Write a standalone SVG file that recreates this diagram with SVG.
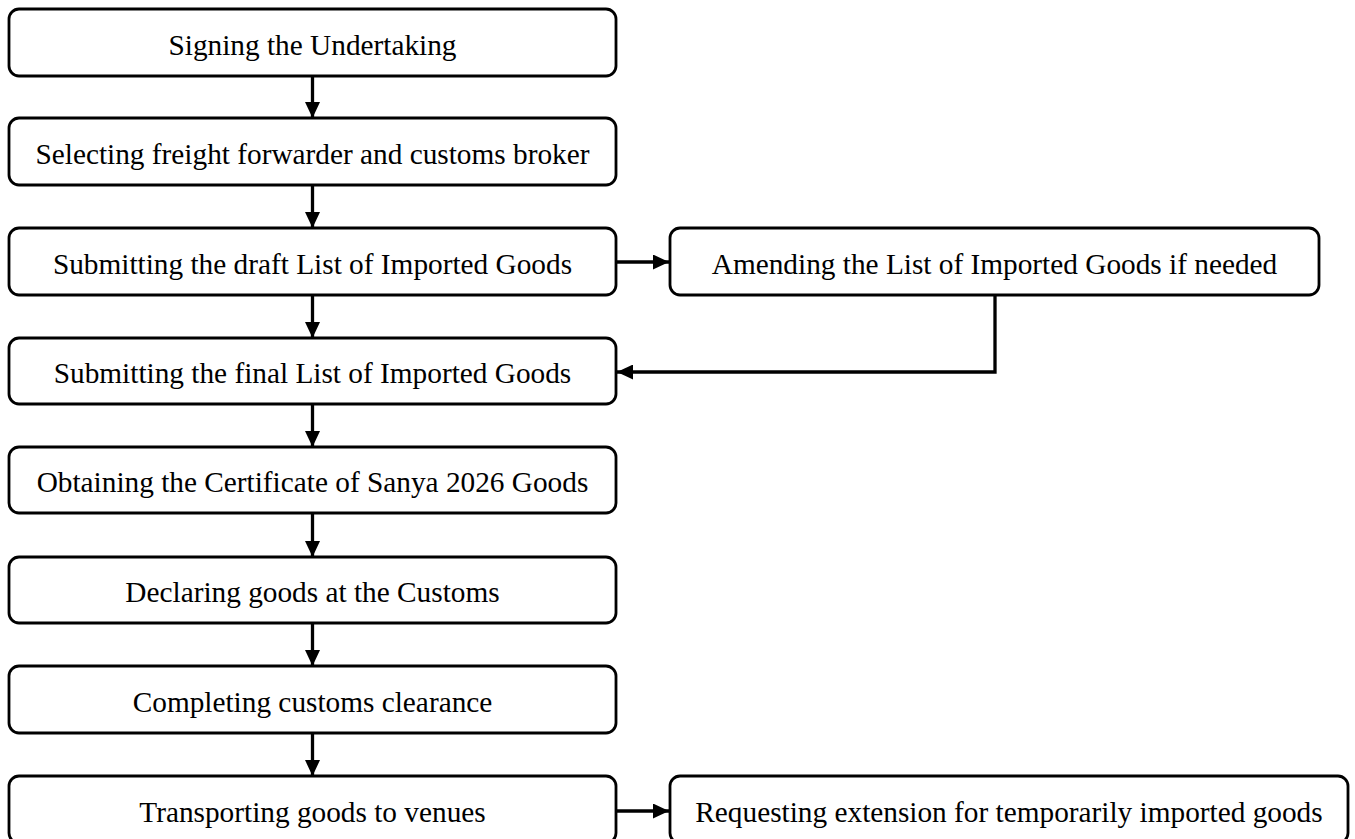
<svg xmlns="http://www.w3.org/2000/svg" width="1355" height="839" viewBox="0 0 1355 839">
<defs>
<style>
.box{fill:#fff;stroke:#000;stroke-width:2.8}
.lbl{font-family:"Liberation Serif","Times New Roman",serif;font-size:29.3px;fill:#000;text-anchor:middle}
.con{fill:none;stroke:#000;stroke-width:3.3}
</style>
<marker id="ah" viewBox="0 0 16 15" markerWidth="16" markerHeight="15" refX="16" refY="7.5" orient="auto" markerUnits="userSpaceOnUse">
<path d="M0,0 L16,7.5 L0,15 z" fill="#000"/>
</marker>
</defs>
<rect width="1355" height="839" fill="#fff"/>
<g id="connectors">
<line class="con" x1="312.5" y1="76" x2="312.5" y2="118" marker-end="url(#ah)"/>
<line class="con" x1="312.5" y1="185" x2="312.5" y2="228" marker-end="url(#ah)"/>
<line class="con" x1="312.5" y1="295" x2="312.5" y2="338" marker-end="url(#ah)"/>
<line class="con" x1="312.5" y1="404" x2="312.5" y2="447" marker-end="url(#ah)"/>
<line class="con" x1="312.5" y1="513" x2="312.5" y2="557" marker-end="url(#ah)"/>
<line class="con" x1="312.5" y1="623" x2="312.5" y2="666" marker-end="url(#ah)"/>
<line class="con" x1="312.5" y1="733" x2="312.5" y2="776" marker-end="url(#ah)"/>
<line class="con" x1="616" y1="262" x2="669" y2="262" marker-end="url(#ah)"/>
<polyline class="con" points="995,295 995,372 617,372" marker-end="url(#ah)"/>
<line class="con" x1="616" y1="811" x2="669" y2="811" marker-end="url(#ah)"/>
</g>
<g id="n1"><rect class="box" x="9" y="9" width="607" height="67" rx="10"/><text class="lbl" x="312.5" y="55">Signing the Undertaking</text></g>
<g id="n2"><rect class="box" x="9" y="118" width="607" height="67" rx="10"/><text class="lbl" x="312.5" y="164">Selecting freight forwarder and customs broker</text></g>
<g id="n3"><rect class="box" x="9" y="228" width="607" height="67" rx="10"/><text class="lbl" x="312.5" y="274">Submitting the draft List of Imported Goods</text></g>
<g id="n3b"><rect class="box" x="670" y="228" width="649" height="67" rx="10"/><text class="lbl" x="994.5" y="274">Amending the List of Imported Goods if needed</text></g>
<g id="n4"><rect class="box" x="9" y="338" width="607" height="66" rx="10"/><text class="lbl" x="312.5" y="383">Submitting the final List of Imported Goods</text></g>
<g id="n5"><rect class="box" x="9" y="447" width="607" height="66" rx="10"/><text class="lbl" x="312.5" y="492">Obtaining the Certificate of Sanya 2026 Goods</text></g>
<g id="n6"><rect class="box" x="9" y="557" width="607" height="66" rx="10"/><text class="lbl" x="312.5" y="602">Declaring goods at the Customs</text></g>
<g id="n7"><rect class="box" x="9" y="666" width="607" height="67" rx="10"/><text class="lbl" x="312.5" y="712">Completing customs clearance</text></g>
<g id="n8"><rect class="box" x="9" y="776" width="607" height="67" rx="10"/><text class="lbl" x="312.5" y="822">Transporting goods to venues</text></g>
<g id="n8b"><rect class="box" x="670" y="776" width="678" height="67" rx="10"/><text class="lbl" x="1009" y="822">Requesting extension for temporarily imported goods</text></g>
</svg>
